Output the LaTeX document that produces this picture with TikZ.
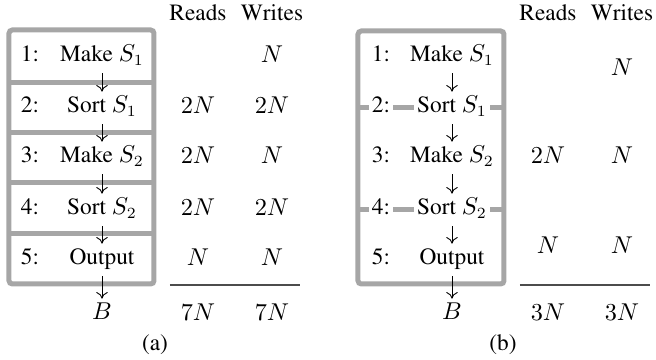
\documentclass[tikz,border=0pt]{standalone}
\usepackage[T1]{fontenc}
\usepackage{times}
\usetikzlibrary{arrows.meta}

\begin{document}
\begin{tikzpicture}[
  x=0.45pt, y=-0.45pt, font=\fontsize{10.5}{12}\selectfont,
  stepbox/.style={inner xsep=1.5pt, inner ysep=2.4pt, text height=7pt,
                  text depth=2.5pt},
  cutbox/.style={stepbox, fill=white},
  cost/.style={inner sep=1pt, text height=7pt, text depth=2pt},
  frame/.style={draw=black!35, line width=2.25pt, rounded corners=1.5pt},
  cut/.style={draw=black!35, line width=2.25pt},
  total/.style={draw=black!70, line width=0.6pt},
  >={To[length=3pt,width=5.2pt]}
]
  \useasboundingbox (0,0) rectangle (656,360);

  % (a) one pass per step
  \draw[frame] (9,30) rectangle (154,284);
  \draw[cut] (9,83) -- (154,83);
  \draw[cut] (9,133) -- (154,133);
  \draw[cut] (9,183) -- (154,183);
  \draw[cut] (9,234) -- (154,234);

  \node[stepbox] (n1) at (30,57) {1:};
  \node[stepbox] (s1) at (102,57) {Make $S_1$};
  \node[stepbox] (n2) at (30,108) {2:};
  \node[stepbox] (s2) at (102,108) {Sort $S_1$};
  \node[stepbox] (n3) at (30,158) {3:};
  \node[stepbox] (s3) at (102,158) {Make $S_2$};
  \node[stepbox] (n4) at (30,210) {4:};
  \node[stepbox] (s4) at (102,210) {Sort $S_2$};
  \node[stepbox] (n5) at (30,260) {5:};
  \node[stepbox] (s5) at (102,260) {Output};
  \node[stepbox] (out) at (102,315) {$B$};

  \draw[->] (s1) -- (s2);
  \draw[->] (s2) -- (s3);
  \draw[->] (s3) -- (s4);
  \draw[->] (s4) -- (s5);
  \draw[->] (s5) -- (out);

  \node[cost] (rh) at (198,15) {Reads};
  \node[cost] (wh) at (272,15) {Writes};
  \node[cost] (w1) at (272,57) {$N$};
  \node[cost] (r2) at (198,108) {$2N$};
  \node[cost] (w2) at (272,108) {$2N$};
  \node[cost] (r3) at (198,158) {$2N$};
  \node[cost] (w3) at (272,158) {$N$};
  \node[cost] (r4) at (198,210) {$2N$};
  \node[cost] (w4) at (272,210) {$2N$};
  \node[cost] (r5) at (198,260) {$N$};
  \node[cost] (w5) at (272,260) {$N$};
  \draw[total] (170,285) -- (300,285);
  \node[cost] (rt) at (198,315) {$7N$};
  \node[cost] (wt) at (272,315) {$7N$};
  \node (capa) at (155,345) {(a)};

  % (b) fused steps
  \draw[frame] (358,31) rectangle (504,284);
  \draw[cut] (358,108) -- (504,108);
  \draw[cut] (358,210) -- (504,210);

  \node[stepbox] (n1b) at (381,57) {1:};
  \node[stepbox] (s1b) at (452,57) {Make $S_1$};
  \node[cutbox] (n2b) at (381,108) {2:};
  \node[cutbox] (s2b) at (452,108) {Sort $S_1$};
  \node[stepbox] (n3b) at (381,158) {3:};
  \node[stepbox] (s3b) at (452,158) {Make $S_2$};
  \node[cutbox] (n4b) at (381,210) {4:};
  \node[cutbox] (s4b) at (452,210) {Sort $S_2$};
  \node[stepbox] (n5b) at (381,260) {5:};
  \node[stepbox] (s5b) at (452,260) {Output};
  \node[stepbox] (outb) at (452,315) {$B$};

  \draw[->] (s1b) -- (s2b);
  \draw[->] (s2b) -- (s3b);
  \draw[->] (s3b) -- (s4b);
  \draw[->] (s4b) -- (s5b);
  \draw[->] (s5b) -- (outb);

  \node[cost] (rhb) at (548,15) {Reads};
  \node[cost] (whb) at (622,15) {Writes};
  \node[cost] (w1b) at (622,70) {$N$};
  \node[cost] (r3b) at (548,158) {$2N$};
  \node[cost] (w3b) at (622,158) {$N$};
  \node[cost] (r5b) at (548,248) {$N$};
  \node[cost] (w5b) at (622,248) {$N$};
  \draw[total] (520,285) -- (650,285);
  \node[cost] (rtb) at (548,315) {$3N$};
  \node[cost] (wtb) at (622,315) {$3N$};
  \node (capb) at (503,345) {(b)};
\end{tikzpicture}
\end{document}
